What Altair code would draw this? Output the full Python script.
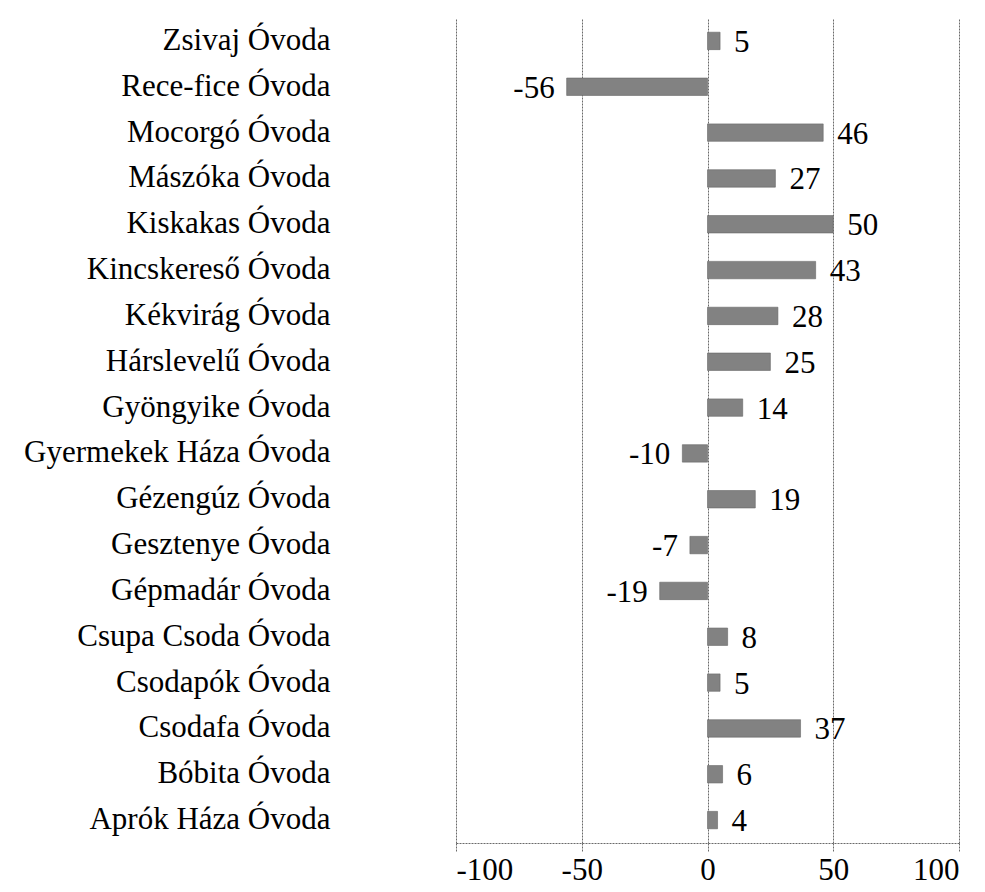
import altair as alt
import pandas as pd

categories = ["Zsivaj Óvoda", "Rece-fice Óvoda", "Mocorgó Óvoda", "Mászóka Óvoda",
              "Kiskakas Óvoda", "Kincskereső Óvoda", "Kékvirág Óvoda", "Hárslevelű Óvoda",
              "Gyöngyike Óvoda", "Gyermekek Háza Óvoda", "Gézengúz Óvoda", "Gesztenye Óvoda",
              "Gépmadár Óvoda", "Csupa Csoda Óvoda", "Csodapók Óvoda", "Csodafa Óvoda",
              "Bóbita Óvoda", "Aprók Háza Óvoda"]
values = [5, -56, 46, 27, 50, 43, 28, 25, 14, -10, 19, -7, -19, 8, 5, 37, 6, 4]
ticks = [-100, -50, 0, 50, 100]

df = pd.DataFrame({"cat": categories, "val": values})
FONT = "Liberation Serif"

y_enc = alt.Y("cat:N", sort=categories, title=None,
              scale=alt.Scale(paddingInner=0.62, paddingOuter=0.31),
              axis=alt.Axis(ticks=False, domain=False, labelFont=FONT, labelFontSize=31,
                            labelColor="#000", labelPadding=126, labelLimit=500))
x_enc = alt.X("val:Q", title=None,
              scale=alt.Scale(domain=[-100, 100], nice=False),
              axis=alt.Axis(values=ticks, ticks=True, tickSize=9, tickColor="#6a6a6a",
                            tickDash=[2, 1], labelFont=FONT, labelFontSize=31,
                            labelColor="#000", labelPadding=3, grid=True,
                            labelExpr="'' + datum.value",
                            gridColor="#6a6a6a", gridDash=[2, 1], gridWidth=1,
                            domainColor="#6a6a6a", domainDash=[2, 1]))

bars = alt.Chart(df).mark_bar(color="#828282", stroke="#666666", strokeWidth=0.6).encode(
    y=y_enc, x=x_enc)

base = alt.Chart(df).transform_calculate(lbl="'' + datum.val")

pos = base.transform_filter("datum.val >= 0").mark_text(
    align="left", baseline="middle", dx=14, dy=2, font=FONT, fontSize=31, color="#000"
).encode(y=alt.Y("cat:N", sort=categories), x="val:Q", text="lbl:N")

neg = base.transform_filter("datum.val < 0").mark_text(
    align="right", baseline="middle", dx=-12, dy=2, font=FONT, fontSize=31, color="#000"
).encode(y=alt.Y("cat:N", sort=categories), x="val:Q", text="lbl:N")

chart = alt.layer(bars, pos, neg).properties(
    width=503, height=825,
    autosize=alt.AutoSizeParams(type="none"),
    padding={"left": 448, "top": 10, "right": 18, "bottom": 48},
).configure(background="white").configure_view(stroke=None)

chart.save("out.html", embed_options={"renderer": "svg", "actions": False})
